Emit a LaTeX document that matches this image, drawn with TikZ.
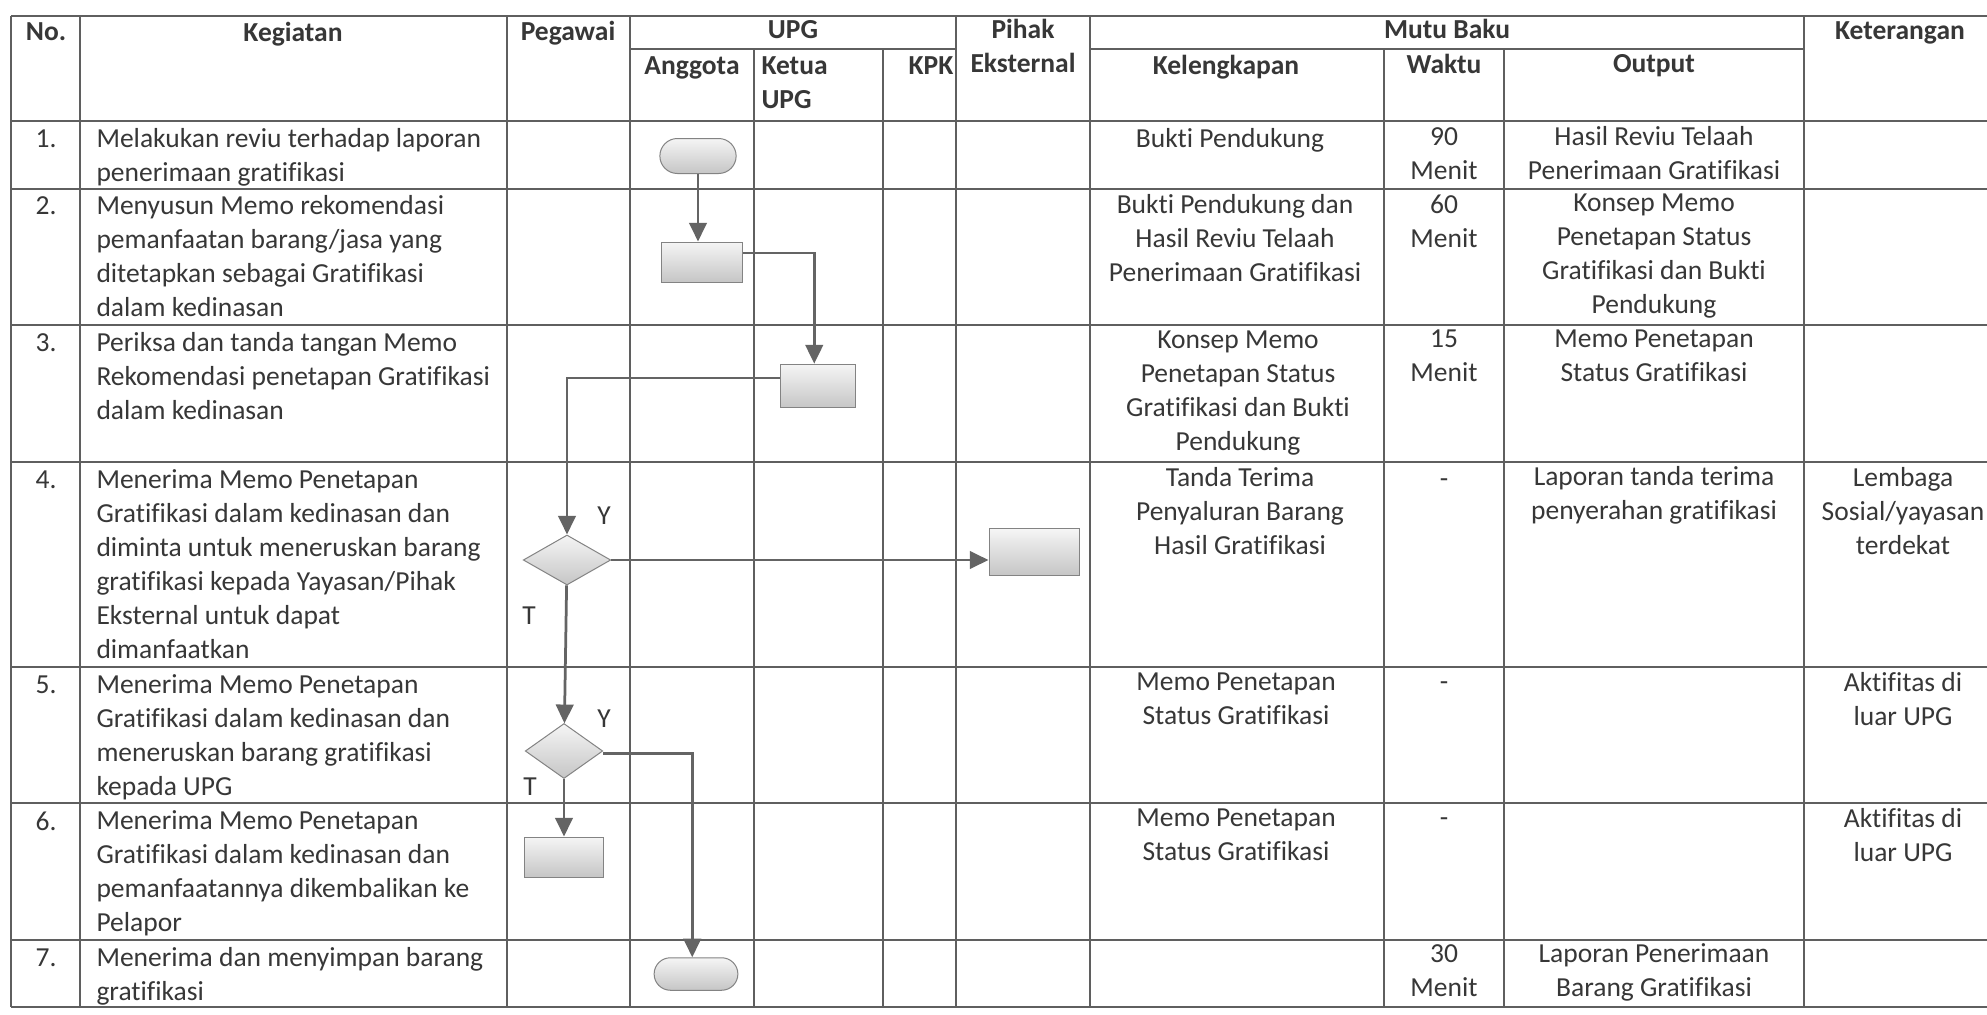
\documentclass[tikz,border=0pt]{standalone}
\usepackage{fontspec}
\setmainfont{Carlito}[Ligatures=NoCommon]
\usetikzlibrary{positioning, arrows.meta, shapes.geometric, shapes.misc}
\definecolor{InkGray}{RGB}{55,55,55}
\definecolor{RuleGray}{RGB}{95,95,95}
\definecolor{EdgeGray}{RGB}{100,100,100}

\begin{document}
\begin{tikzpicture}[x=0.4pt, y=-0.4pt,
    >={Triangle[length=7.5pt, width=7pt]},
    rule/.style={RuleGray, line width=0.6pt},
    cell/.style={anchor=north, inner sep=0pt, align=center, text=InkGray,
        font=\fontsize{11}{13.6}\selectfont},
    celll/.style={cell, anchor=north west, align=left},
    dashcell/.style={cell, anchor=base},
    head/.style={cell, font=\fontsize{11}{13.6}\selectfont\bfseries},
    shade/.style={draw=EdgeGray!80, top color=gray!8, bottom color=gray!45, inner sep=0pt},
    term/.style={rounded rectangle, shade, minimum width=30.5pt, minimum height=14pt},
    proc/.style={rectangle, shade, minimum width=32pt, minimum height=16pt},
    decide/.style={diamond, shade, minimum width=34pt, minimum height=21pt},
    flow/.style={EdgeGray, line width=1.1pt},
    branch/.style={inner sep=0pt, text=InkGray, font=\fontsize{11}{13.6}\selectfont}]

    \fill[white] (0,0) rectangle (1987,1014);
    \useasboundingbox (0,0) rectangle (1987,1014);

    % Tabla
    \draw[rule] (11,16) -- (1987,16) (630,49) -- (956,49) (1090,49) -- (1804,49);
    \draw[rule] (11,121) -- (1987,121) (11,189) -- (1987,189) (11,325) -- (1987,325) (11,462) -- (1987,462);
    \draw[rule] (11,667) -- (1987,667) (11,803) -- (1987,803) (11,940) -- (1987,940) (11,1007) -- (1987,1007);
    \draw[rule] (11,16) -- (11,1007) (80,16) -- (80,1007) (507,16) -- (507,1007) (630,16) -- (630,1007);
    \draw[rule] (754,49) -- (754,1007) (883,49) -- (883,1007) (956,16) -- (956,1007) (1090,16) -- (1090,1007);
    \draw[rule] (1384,49) -- (1384,1007) (1504,49) -- (1504,1007) (1804,16) -- (1804,1007);

    % Judul
    \node[head] (HNo) at (46,22) {No.};
    \node[head] (HKeg) at (293,22) {Kegiatan};
    \node[head] (HPeg) at (568,21) {Pegawai};
    \node[head] (HUpg) at (793,20) {UPG};
    \node[head] (HAng) at (692,56) {Anggota};
    \node[head, anchor=north west, align=left] (HKet) at (761,56) {Ketua\\UPG};
    \node[head] (HKpk) at (931,56) {KPK};
    \node[head] (HPih) at (1023,19) {Pihak\\Eksternal};
    \node[head] (HMutu) at (1447,19) {Mutu Baku};
    \node[head] (HKel) at (1226,55) {Kelengkapan};
    \node[head] (HWak) at (1444,54) {Waktu};
    \node[head] (HOut) at (1654,54) {Output};
    \node[head] (HKtr) at (1900,21) {Keterangan};

    % Baris 1
    \node[cell] (N1) at (46,129) {1.};
    \node[celll] (K1) at (96,128) {Melakukan reviu terhadap laporan\\penerimaan gratifikasi};
    \node[cell] (L1) at (1230,128) {Bukti Pendukung};
    \node[cell] (W1) at (1444,127) {90\\Menit};
    \node[cell] (O1) at (1654,126) {Hasil Reviu Telaah\\Penerimaan Gratifikasi};

    % Baris 2
    \node[cell] (N2) at (46,196) {2.};
    \node[celll] (K2) at (96,195) {Menyusun Memo rekomendasi\\pemanfaatan barang/jasa yang\\ditetapkan sebagai Gratifikasi\\dalam kedinasan};
    \node[cell] (L2) at (1235,194) {Bukti Pendukung dan\\Hasil Reviu Telaah\\Penerimaan Gratifikasi};
    \node[cell] (W2) at (1444,194) {60\\Menit};
    \node[cell] (O2) at (1654,193) {Konsep Memo\\Penetapan Status\\Gratifikasi dan Bukti\\Pendukung};

    % Baris 3
    \node[cell] (N3) at (46,333) {3.};
    \node[celll] (K3) at (96,332) {Periksa dan tanda tangan Memo\\Rekomendasi penetapan Gratifikasi\\dalam kedinasan};
    \node[cell] (L3) at (1238,330) {Konsep Memo\\Penetapan Status\\Gratifikasi dan Bukti\\Pendukung};
    \node[cell] (W3) at (1444,329) {15\\Menit};
    \node[cell] (O3) at (1654,329) {Memo Penetapan\\Status Gratifikasi};

    % Baris 4
    \node[cell] (N4) at (46,470) {4.};
    \node[celll] (K4) at (96,469) {Menerima Memo Penetapan\\Gratifikasi dalam kedinasan dan\\diminta untuk meneruskan barang\\gratifikasi kepada Yayasan/Pihak\\Eksternal untuk dapat\\dimanfaatkan};
    \node[cell] (L4) at (1240,467) {Tanda Terima\\Penyaluran Barang\\Hasil Gratifikasi};
    \node[dashcell] (W4) at (1444,487) {-};
    \node[cell] (O4) at (1654,466) {Laporan tanda terima\\penyerahan gratifikasi};
    \node[cell] (C4) at (1903,467) {Lembaga\\Sosial/yayasan\\terdekat};

    % Baris 5
    \node[cell] (N5) at (46,675) {5.};
    \node[celll] (K5) at (96,674) {Menerima Memo Penetapan\\Gratifikasi dalam kedinasan dan\\meneruskan barang gratifikasi\\kepada UPG};
    \node[cell] (L5) at (1236,672) {Memo Penetapan\\Status Gratifikasi};
    \node[dashcell] (W5) at (1444,690) {-};
    \node[cell] (C5) at (1903,672) {Aktifitas di\\luar UPG};

    % Baris 6
    \node[cell] (N6) at (46,811) {6.};
    \node[celll] (K6) at (96,810) {Menerima Memo Penetapan\\Gratifikasi dalam kedinasan dan\\pemanfaatannya dikembalikan ke\\Pelapor};
    \node[cell] (L6) at (1236,808) {Memo Penetapan\\Status Gratifikasi};
    \node[dashcell] (W6) at (1444,826) {-};
    \node[cell] (C6) at (1903,808) {Aktifitas di\\luar UPG};

    % Baris 7
    \node[cell] (N7) at (46,948) {7.};
    \node[celll] (K7) at (96,947) {Menerima dan menyimpan barang\\gratifikasi};
    \node[cell] (W7) at (1444,944) {30\\Menit};
    \node[cell] (O7) at (1654,943) {Laporan Penerimaan\\Barang Gratifikasi};

    % Simbol alur
    \node[term] (T1) at (698,156) {};
    \node[proc, minimum width=32.5pt] (P2) at (702,262) {};
    \node[proc, minimum width=30pt, minimum height=17.5pt] (P3) at (818,386) {};
    \node[decide, minimum width=35pt, minimum height=20pt] (D4) at (567,560) {};
    \node[proc, minimum width=36pt, minimum height=18.5pt] (E4) at (1034,552) {};
    \node[decide, minimum width=31pt, minimum height=22pt] (D5) at (564,751) {};
    \node[proc, minimum width=31.5pt] (P6) at (564,857) {};
    \node[term, minimum width=33.5pt, minimum height=13pt] (T7) at (696,974) {};

    \node[branch] (Y4) at (604,516) {Y};
    \node[branch] (T4) at (529,616) {T};
    \node[branch] (Y5) at (604,719) {Y};
    \node[branch] (T5) at (530,787) {T};

    % Konektor
    \draw[->, flow] (T1) -- (T1 |- P2.north);
    \draw[->, flow] ([yshift=3.6pt]P2.east) -| ([xshift=-1.5pt]P3.north);
    \draw[->, flow] ([yshift=3.2pt]P3.west) -| (D4);
    \draw[->, flow] (D4) -- (E4.west |- D4);
    \draw[->, flow] (D4) -- (D5);
    \draw[->, flow] (D5) -- (P6);
    \draw[->, flow] ([yshift=-1pt]D5.east) -| ([xshift=-1.5pt]T7.north);

\end{tikzpicture}
\end{document}
